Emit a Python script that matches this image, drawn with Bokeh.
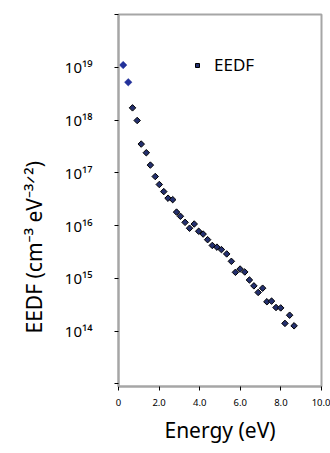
import numpy as np
from bokeh.plotting import figure
from bokeh.models import Range1d, FixedTicker, Legend, LegendItem, Title
from bokeh.embed import file_html
from bokeh.resources import INLINE

# Data
energy_ev = [0.23, 0.48, 0.69, 0.92, 1.12, 1.37, 1.57, 1.81, 2.01, 2.23,
             2.44, 2.67, 2.86, 3.05, 3.28, 3.50, 3.73, 3.95, 4.17, 4.39,
             4.62, 4.85, 5.07, 5.33, 5.56, 5.76, 5.99, 6.22, 6.45, 6.67,
             6.88, 7.10, 7.31, 7.54, 7.76, 7.99, 8.20, 8.43, 8.65]
eedf = [1.1e19, 5.2e18, 1.7e18, 9.8e17, 3.5e17, 2.4e17, 1.4e17, 8.5e16, 6.0e16, 4.4e16,
        3.3e16, 3.1e16, 1.8e16, 1.5e16, 1.15e16, 8.9e15, 1.07e16, 7.8e15, 6.9e15, 5.4e15,
        4.2e15, 3.9e15, 3.5e15, 2.9e15, 2.1e15, 1.3e15, 1.5e15, 1.32e15, 9.3e14, 7.2e14,
        5.4e14, 6.5e14, 3.6e14, 3.7e14, 2.8e14, 2.75e14, 1.4e14, 2.0e14, 1.26e14]

x_ticks = [0, 2, 4, 6, 8, 10]
x_tick_labels = ["0", "2.0", "4.0", "6.0", "8.0", "10.0"]
y_ticks = [1e13, 1e14, 1e15, 1e16, 1e17, 1e18, 1e19, 1e20]
y_tick_labels = ["", "10¹⁴", "10¹⁵", "10¹⁶", "10¹⁷", "10¹⁸", "10¹⁹", ""]

FONT = "Noto Sans"
GRAY = "#a6a6a6"

p = figure(width=330, height=453, output_backend="svg", toolbar_location=None,
           y_axis_type="log",
           x_range=Range1d(0, 10), y_range=Range1d(10 ** 12.95, 1e20),
           min_border_left=118, min_border_right=9, min_border_top=14,
           min_border_bottom=67)

p.grid.visible = False
p.outline_line_color = GRAY
p.outline_line_width = 2
p.background_fill_color = "white"
p.border_fill_color = "white"

xa = p.xaxis[0]
xa.ticker = FixedTicker(ticks=x_ticks)
xa.major_label_overrides = {t: l for t, l in zip(x_ticks, x_tick_labels)}
xa.axis_line_color = GRAY
xa.axis_line_width = 2
xa.major_tick_line_color = "black"
xa.major_tick_out = 4
xa.major_tick_in = 0
xa.minor_tick_line_color = None
xa.major_label_text_font = FONT
xa.major_label_text_font_size = "9.5px"
xa.major_label_text_color = "black"
xa.major_label_standoff = 8
xa.axis_label = "Energy (eV)"
xa.axis_label_text_font = FONT
xa.axis_label_text_font_size = "21px"
xa.axis_label_text_font_style = "normal"
xa.axis_label_text_color = "black"
xa.axis_label_standoff = 7

ya = p.yaxis[0]
ya.ticker = FixedTicker(ticks=y_ticks)
ya.major_label_overrides = {t: l for t, l in zip(y_ticks, y_tick_labels)}
ya.axis_line_color = GRAY
ya.axis_line_width = 2
ya.major_tick_line_color = "black"
ya.major_tick_out = 4
ya.major_tick_in = 0
ya.minor_tick_line_color = None
ya.major_label_text_font = FONT
ya.major_label_text_font_size = "15px"
ya.major_label_text_color = "black"
ya.major_label_standoff = 22

# highlighted first two points (no outline) and the rest (black outline)
p.scatter(energy_ev[:2], eedf[:2], marker="square", angle=np.pi / 4, size=5.3,
          fill_color="#22319a", line_color="#22319a", line_width=0.5)
main = p.scatter(energy_ev[2:], eedf[2:], marker="square", angle=np.pi / 4, size=4.6,
                 fill_color="#24306e", line_color="black", line_width=1)

legend = Legend(items=[LegendItem(label="EEDF", renderers=[main])],
                location=(74, 310), border_line_color=None,
                background_fill_alpha=0, glyph_width=10, glyph_height=20,
                label_standoff=12, padding=0, margin=0,
                label_text_font=FONT, label_text_font_size="17px",
                label_text_color="black")
p.add_layout(legend, "center")

ylab = Title(text="EEDF (cm⁻³ eV⁻³ᐟ²)", align="left", offset=53,
             vertical_align="middle", standoff=26,
             text_font=FONT, text_font_size="21px", text_font_style="normal",
             text_color="black")
p.add_layout(ylab, "left")

open("out.html", "w").write(file_html(p, INLINE))
